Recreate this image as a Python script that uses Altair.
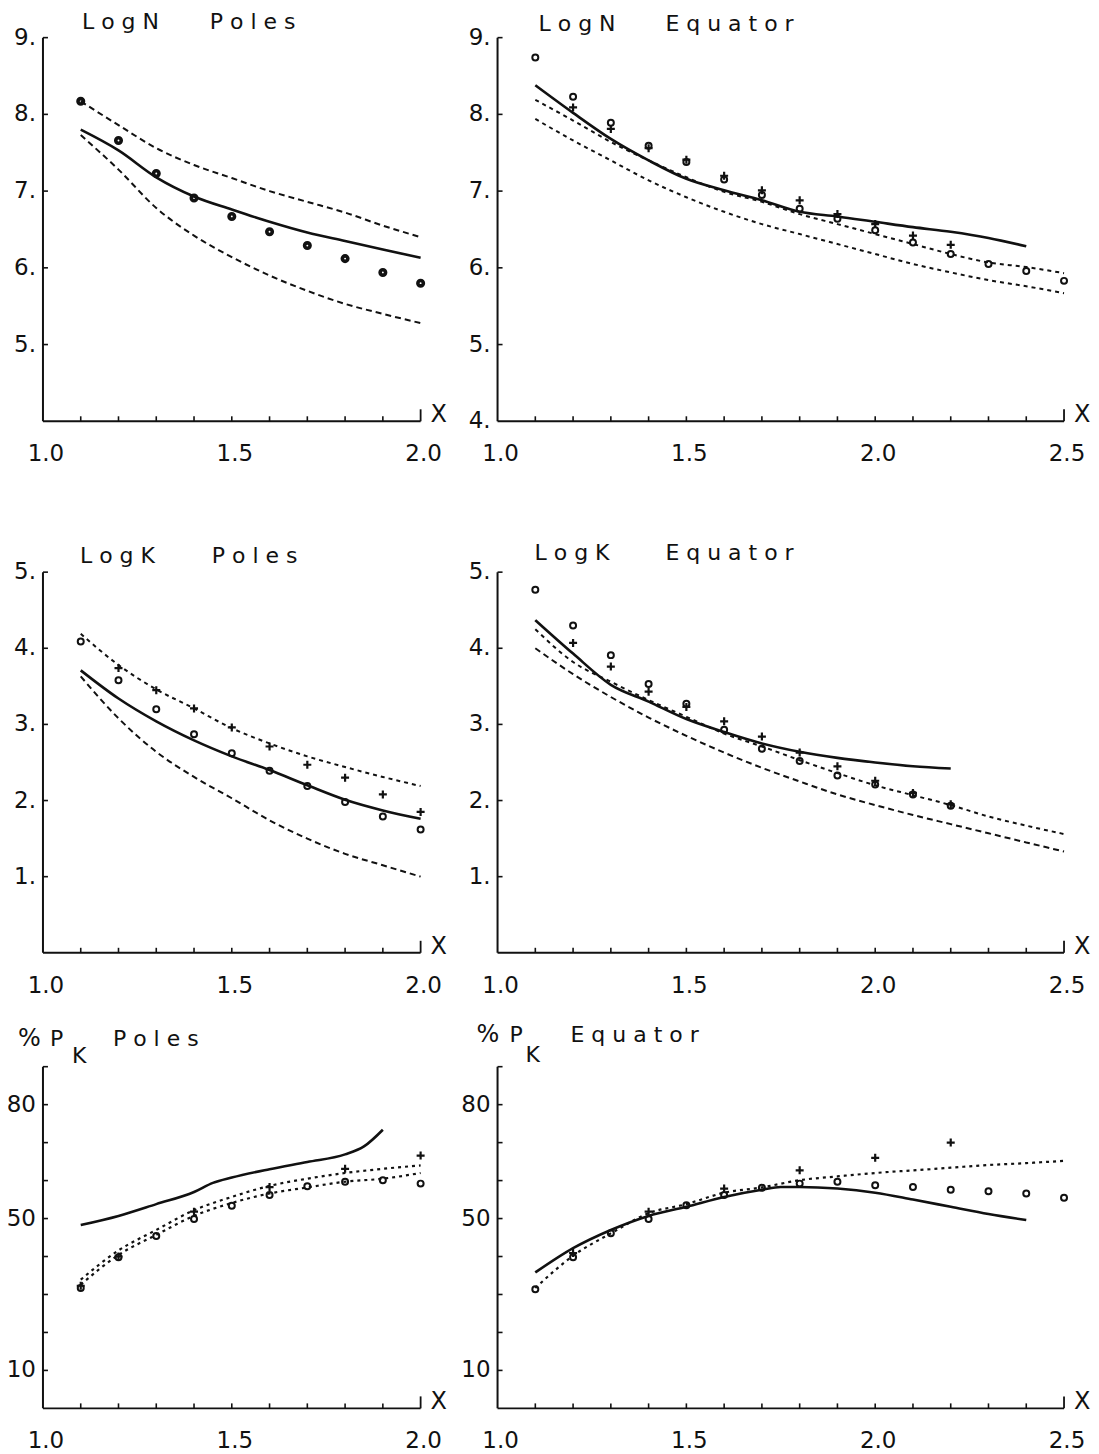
import altair as alt
import pandas as pd

FONT = "DejaVu Sans"
INK = "#111111"

# ---------------- data ----------------
X_L = [1.1, 1.2, 1.3, 1.4, 1.5, 1.6, 1.7, 1.8, 1.9, 2.0]
X_R = [1.1, 1.2, 1.3, 1.4, 1.5, 1.6, 1.7, 1.8, 1.9, 2.0, 2.1, 2.2, 2.3, 2.4, 2.5]

# Log N  Poles
N_POLES_DOTS = [8.17, 7.66, 7.23, 6.91, 6.67, 6.47, 6.29, 6.12, 5.94, 5.80]
N_POLES_SOLID = [7.80, 7.53, 7.18, 6.93, 6.76, 6.60, 6.46, 6.35, 6.24, 6.13]
N_POLES_UP = [8.17, 7.86, 7.56, 7.34, 7.17, 7.00, 6.86, 6.72, 6.55, 6.40]
N_POLES_LO = [7.73, 7.28, 6.78, 6.42, 6.14, 5.90, 5.70, 5.53, 5.40, 5.28]

# Log N  Equator
N_EQ_CIRC = [8.74, 8.23, 7.89, 7.59, 7.38, 7.15, 6.95, 6.77, 6.64, 6.49, 6.33, 6.18, 6.05, 5.96, 5.83]
N_EQ_PLUS_X = [1.2, 1.3, 1.4, 1.5, 1.6, 1.7, 1.8, 1.9, 2.0, 2.1, 2.2]
N_EQ_PLUS = [8.09, 7.81, 7.56, 7.41, 7.20, 7.01, 6.88, 6.70, 6.57, 6.42, 6.30]
N_EQ_SOLID_X = [1.1, 1.2, 1.3, 1.4, 1.5, 1.6, 1.7, 1.8, 1.9, 2.0, 2.1, 2.2, 2.3, 2.4]
N_EQ_SOLID = [8.38, 8.02, 7.68, 7.40, 7.16, 7.01, 6.88, 6.73, 6.67, 6.60, 6.53, 6.47, 6.39, 6.28]
N_EQ_UP = [8.19, 7.92, 7.64, 7.40, 7.18, 6.99, 6.86, 6.70, 6.57, 6.44, 6.31, 6.18, 6.07, 6.01, 5.93]
N_EQ_LO = [7.94, 7.66, 7.40, 7.14, 6.92, 6.73, 6.57, 6.44, 6.31, 6.18, 6.05, 5.94, 5.84, 5.76, 5.67]

# Log K  Poles
K_POLES_CIRC = [4.09, 3.58, 3.20, 2.87, 2.62, 2.39, 2.19, 1.98, 1.79, 1.62]
K_POLES_PLUS_X = [1.2, 1.3, 1.4, 1.5, 1.6, 1.7, 1.8, 1.9, 2.0]
K_POLES_PLUS = [3.74, 3.45, 3.21, 2.96, 2.71, 2.47, 2.30, 2.08, 1.85]
K_POLES_SOLID = [3.71, 3.34, 3.04, 2.79, 2.58, 2.40, 2.20, 2.01, 1.87, 1.76]
K_POLES_UP = [4.19, 3.78, 3.46, 3.21, 2.95, 2.75, 2.58, 2.44, 2.31, 2.19]
K_POLES_LO = [3.63, 3.08, 2.64, 2.31, 2.03, 1.74, 1.50, 1.30, 1.15, 1.00]

# Log K  Equator
K_EQ_CIRC_X = [1.1, 1.2, 1.3, 1.4, 1.5, 1.6, 1.7, 1.8, 1.9, 2.0, 2.1, 2.2]
K_EQ_CIRC = [4.77, 4.30, 3.91, 3.53, 3.27, 2.93, 2.68, 2.52, 2.33, 2.21, 2.08, 1.93]
K_EQ_PLUS_X = [1.2, 1.3, 1.4, 1.5, 1.6, 1.7, 1.8, 1.9, 2.0, 2.1, 2.2]
K_EQ_PLUS = [4.07, 3.76, 3.43, 3.23, 3.04, 2.84, 2.63, 2.45, 2.26, 2.10, 1.95]
K_EQ_SOLID_X = [1.1, 1.2, 1.3, 1.4, 1.5, 1.6, 1.7, 1.8, 1.9, 2.0, 2.1, 2.2]
K_EQ_SOLID = [4.37, 3.93, 3.52, 3.30, 3.07, 2.90, 2.75, 2.64, 2.56, 2.50, 2.45, 2.42]
K_EQ_UP = [4.25, 3.82, 3.56, 3.32, 3.10, 2.88, 2.71, 2.53, 2.36, 2.20, 2.07, 1.94, 1.79, 1.67, 1.56]
K_EQ_LO = [4.00, 3.66, 3.36, 3.09, 2.85, 2.63, 2.43, 2.25, 2.08, 1.94, 1.81, 1.69, 1.57, 1.45, 1.33]

# % P_K  Poles
P_POLES_CIRC = [31.7, 39.8, 45.4, 49.9, 53.4, 56.2, 58.5, 59.7, 60.1, 59.2]
P_POLES_PLUS_X = [1.1, 1.2, 1.4, 1.6, 1.8, 2.0]
P_POLES_PLUS = [32.3, 40.0, 51.8, 58.3, 63.1, 66.6]
P_POLES_SOLID_X = [1.1, 1.2, 1.3, 1.4, 1.45, 1.5, 1.6, 1.7, 1.8, 1.85, 1.9]
P_POLES_SOLID = [48.3, 50.7, 53.8, 57.0, 59.4, 60.8, 63.0, 64.9, 66.9, 69.0, 73.4]
P_POLES_UP = [33.9, 41.6, 47.0, 52.2, 55.7, 58.6, 60.5, 62.0, 63.1, 64.0]
P_POLES_LO = [32.6, 40.4, 45.7, 50.7, 54.1, 56.6, 58.2, 59.7, 60.5, 62.0]

# % P_K  Equator
P_EQ_CIRC = [31.4, 39.8, 46.1, 49.9, 53.5, 56.2, 58.1, 59.2, 59.7, 58.8, 58.3, 57.6, 57.2, 56.6, 55.5]
P_EQ_PLUS_X = [1.2, 1.4, 1.6, 1.8, 2.0, 2.2]
P_EQ_PLUS = [40.9, 51.8, 57.9, 62.7, 66.0, 70.0]
P_EQ_SOLID_X = [1.1, 1.2, 1.3, 1.4, 1.5, 1.6, 1.7, 1.75, 1.8, 1.9, 2.0, 2.1, 2.2, 2.3, 2.4]
P_EQ_SOLID = [35.8, 42.2, 47.0, 50.7, 53.1, 55.7, 57.6, 58.3, 58.3, 57.9, 56.8, 55.0, 53.1, 51.2, 49.6]
P_EQ_DOT = [31.7, 40.2, 46.1, 51.4, 53.8, 56.8, 58.2, 60.1, 61.1, 62.0, 62.7, 63.4, 64.1, 64.6, 65.2]

# axis tick / label values
XT_L = [1.1, 1.2, 1.3, 1.4, 1.5, 1.6, 1.7, 1.8, 1.9]
XT_R = [1.1, 1.2, 1.3, 1.4, 1.5, 1.6, 1.7, 1.8, 1.9, 2.0, 2.1, 2.2, 2.3, 2.4]
XLAB_L = [1.0, 1.5, 2.0]
XLAB_R = [1.0, 1.5, 2.0, 2.5]
YLAB_N_POLES = [5, 6, 7, 8, 9]
YLAB_N_EQ = [4, 5, 6, 7, 8, 9]
YLAB_K = [1, 2, 3, 4, 5]
YLAB_P = [10, 50, 80]
YT_N = [5, 6, 7, 8, 9]
YT_K = [1, 2, 3, 4, 5]
YT_P = [10, 20, 30, 40, 50, 60, 70, 80, 90]

PLUS_PATH = "M-1,0L1,0M0,-1L0,1"

SOLID = dict(strokeWidth=2.6)
DASH = dict(strokeWidth=2.0, strokeDash=[6, 4])
DASH_FINE = dict(strokeWidth=2.0, strokeDash=[4, 4])
DOT = dict(strokeWidth=2.2, strokeDash=[3, 4])


def panel(w, h, xmax, ylo, yhi, yaxis_top, yoff, ylabels, ysuffix, yticks, xticks,
          xlabels, lines, pts, titles):
    xs = alt.Scale(domain=[1.0, xmax], nice=False, zero=False)
    ys = alt.Scale(domain=[ylo, yhi], nice=False, zero=False)
    X = lambda: alt.X("x:Q", scale=xs, axis=None)
    Y = lambda: alt.Y("y:Q", scale=ys, axis=None)
    layers = []

    # axis lines
    layers.append(
        alt.Chart(pd.DataFrame({"x": [1.0], "y": [ylo], "y2": [yaxis_top]}))
        .mark_rule(color=INK, strokeWidth=2)
        .encode(x=X(), y=Y(), y2="y2:Q")
    )
    layers.append(
        alt.Chart(pd.DataFrame({"x": [1.0], "x2": [xmax], "y": [ylo]}))
        .mark_rule(color=INK, strokeWidth=2)
        .encode(x=X(), x2="x2:Q", y=Y())
    )
    # inward ticks
    layers.append(
        alt.Chart(pd.DataFrame({"x": xticks})).mark_rule(color=INK, strokeWidth=1.6).encode(
            x=X(), y=alt.value(h - 5), y2=alt.value(h))
    )
    layers.append(
        alt.Chart(pd.DataFrame({"x": [xmax]})).mark_rule(color=INK, strokeWidth=1.8).encode(
            x=X(), y=alt.value(h - 12), y2=alt.value(h))
    )
    layers.append(
        alt.Chart(pd.DataFrame({"y": yticks})).mark_rule(color=INK, strokeWidth=1.6).encode(
            y=Y(), x=alt.value(0), x2=alt.value(5))
    )
    # tick labels
    layers.append(
        alt.Chart(pd.DataFrame({"x": xlabels, "t": [f"{v:.1f}" for v in xlabels]}))
        .mark_text(align="center", baseline="alphabetic", fontSize=23, font=FONT,
                   color=INK, dx=3)
        .encode(x=X(), y=alt.value(h + 40), text="t:N")
    )
    layers.append(
        alt.Chart(pd.DataFrame({"y": ylabels, "t": [f"{v}{ysuffix}" for v in ylabels]}))
        .mark_text(align="right", baseline="middle", fontSize=23, font=FONT, color=INK)
        .encode(y=Y(), x=alt.value(-7), text="t:N")
    )
    for lx, ly, style in lines:
        layers.append(
            alt.Chart(pd.DataFrame({"x": lx, "y": ly})).mark_line(
                color=INK, interpolate="monotone", **style).encode(x=X(), y=Y())
        )
    for px, py, kind in pts:
        df = pd.DataFrame({"x": px, "y": py})
        if kind == "plus":
            m = alt.Chart(df).mark_point(shape=PLUS_PATH, size=64, filled=False,
                                         color=INK, strokeWidth=2.2, opacity=1)
        elif kind == "dot":
            m = alt.Chart(df).mark_point(shape="circle", size=30, filled=False,
                                         color=INK, strokeWidth=3.6, opacity=1)
        else:
            m = alt.Chart(df).mark_point(shape="circle", size=36, filled=False,
                                         color=INK, strokeWidth=2.0, opacity=1)
        layers.append(m.encode(x=X(), y=Y()))
    one = pd.DataFrame({"a": [0]})
    for txt, dx, dy, fs in titles:
        layers.append(
            alt.Chart(one).mark_text(text=txt, align="left", baseline="alphabetic",
                                     fontSize=fs, font=FONT, color=INK).encode(
                x=alt.value(dx), y=alt.value(yoff + dy))
        )
    layers.append(
        alt.Chart(one).mark_text(text="X", align="left", baseline="alphabetic",
                                 fontSize=24, font=FONT, color=INK).encode(
            x=alt.value(w + 10), y=alt.value(h + 1))
    )
    return alt.layer(*layers).properties(
        width=w, height=h,
        view=alt.ViewBackground(stroke="transparent", strokeOpacity=0),
    )


WL, WR = 378, 567
H1, H2, H3 = 384, 418, 342
MID_TOP = 5 * H2 / 381.0   # middle panels: axis line spans 0..5 over 381 px

p1 = panel(WL, H1, 2.0, 4, 9, 9, 0, YLAB_N_POLES, ".", YT_N, XT_L, XLAB_L,
           [(X_L, N_POLES_SOLID, SOLID), (X_L, N_POLES_UP, DASH), (X_L, N_POLES_LO, DASH)],
           [(X_L, N_POLES_DOTS, "dot")],
           [("L o g N", 39, -9, 22), ("P o l e s", 167, -9, 22)])

p2 = panel(WR, H1, 2.5, 4, 9, 9, 0, YLAB_N_EQ, ".", YT_N, XT_R, XLAB_R,
           [(N_EQ_SOLID_X, N_EQ_SOLID, SOLID), (X_R, N_EQ_UP, DASH_FINE), (X_R, N_EQ_LO, DASH_FINE)],
           [(X_R, N_EQ_CIRC, "circle"), (N_EQ_PLUS_X, N_EQ_PLUS, "plus")],
           [("L o g N", 41, -7, 22), ("E q u a t o r", 168, -7, 22)])

p3 = panel(WL, H2, 2.0, 0, MID_TOP, 5, H2 - 381, YLAB_K, ".", YT_K, XT_L, XLAB_L,
           [(X_L, K_POLES_SOLID, SOLID), (X_L, K_POLES_UP, DASH_FINE), (X_L, K_POLES_LO, DASH)],
           [(X_L, K_POLES_CIRC, "circle"), (K_POLES_PLUS_X, K_POLES_PLUS, "plus")],
           [("L o g K", 37, -9, 22), ("P o l e s", 169, -9, 22)])

p4 = panel(WR, H2, 2.5, 0, MID_TOP, 5, H2 - 381, YLAB_K, ".", YT_K, XT_R, XLAB_R,
           [(K_EQ_SOLID_X, K_EQ_SOLID, SOLID), (X_R, K_EQ_UP, DASH_FINE), (X_R, K_EQ_LO, DASH)],
           [(K_EQ_CIRC_X, K_EQ_CIRC, "circle"), (K_EQ_PLUS_X, K_EQ_PLUS, "plus")],
           [("L o g K", 37, -12, 22), ("E q u a t o r", 168, -12, 22)])

p5 = panel(WL, H3, 2.0, 0, 90, 90, 0, YLAB_P, "", YT_P, XT_L, XLAB_L,
           [(P_POLES_SOLID_X, P_POLES_SOLID, SOLID), (X_L, P_POLES_UP, DOT), (X_L, P_POLES_LO, DOT)],
           [(X_L, P_POLES_CIRC, "circle"), (P_POLES_PLUS_X, P_POLES_PLUS, "plus")],
           [("%", -25, -21, 24), ("P", 7, -21, 22), ("K", 29, -4, 22), ("P o l e s", 70, -21, 22)])

p6 = panel(WR, H3, 2.5, 0, 90, 90, 0, YLAB_P, "", YT_P, XT_R, XLAB_R,
           [(P_EQ_SOLID_X, P_EQ_SOLID, SOLID), (X_R, P_EQ_DOT, DOT)],
           [(X_R, P_EQ_CIRC, "circle"), (P_EQ_PLUS_X, P_EQ_PLUS, "plus")],
           [("%", -21, -25, 24), ("P", 12, -25, 22), ("K", 28, -5, 22), ("E q u a t o r", 73, -25, 22)])

chart = alt.concat(
    p1, p2, p3, p4, p5, p6,
    columns=2,
    spacing={"row": 114, "column": 77},
    bounds="flush",
    align="each",
).properties(
    padding={"left": -2, "top": 2, "right": 0, "bottom": 0}
).configure_view(stroke="transparent", strokeOpacity=0).configure(background="white")

chart.save("out.html", embed_options={"renderer": "svg", "actions": False})
